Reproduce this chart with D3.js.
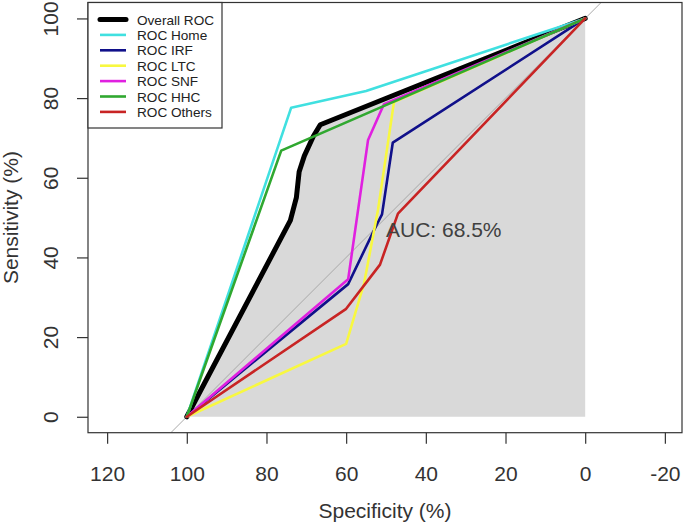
<!DOCTYPE html>
<html>
<head>
<meta charset="utf-8">
<script src="https://cdn.jsdelivr.net/npm/d3@7"></script>
<style>
  html, body { margin: 0; padding: 0; background: #fff; }
  svg { display: block; font-family: "Liberation Sans", Arial, sans-serif; }
</style>
</head>
<body>
<svg id="chart" width="685" height="526"></svg>
<script>
// ---- data (specificity %, sensitivity %) ----
const seriesNames = ["Overall ROC", "ROC Home", "ROC IRF", "ROC LTC", "ROC SNF", "ROC HHC", "ROC Others"];
const seriesColors = ["#000000", "#40e0e0", "#10108a", "#f8f840", "#e020e0", "#30a830", "#c82424"];
const overallSpec = [100, 74, 72.5, 71.8, 70.5, 68.2, 66.5, 0];
const overallSens = [0, 49.3, 55, 61.5, 65.5, 70.5, 73.3, 100];
const homeSpec = [100, 73.8, 55, 0];
const homeSens = [0, 77.6, 81.8, 100];
const irfSpec = [100, 59.5, 52.2, 51, 48.3, 0];
const irfSens = [0, 33.3, 48.5, 50.8, 68.8, 100];
const ltcSpec = [100, 60, 55.5, 52, 48, 0];
const ltcSens = [0, 18.3, 33.5, 52, 79, 100];
const snfSpec = [100, 59.5, 54.5, 50.5, 0];
const snfSens = [0, 34.5, 69.5, 78.5, 100];
const hhcSpec = [100, 76.3, 0];
const hhcSens = [0, 66.8, 100];
const othersSpec = [100, 60, 51.5, 47, 0];
const othersSens = [0, 27.1, 38.2, 51, 100];
const diagSpec = [104, -4];
const diagSens = [-4, 104];
const xTicks = [120, 100, 80, 60, 40, 20, 0, -20];
const yTicks = [0, 20, 40, 60, 80, 100];
const aucLabel = "AUC: 68.5%";
const xTitle = "Specificity (%)";
const yTitle = "Sensitivity (%)";

const allSpec = [overallSpec, homeSpec, irfSpec, ltcSpec, snfSpec, hhcSpec, othersSpec];
const allSens = [overallSens, homeSens, irfSens, ltcSens, snfSens, hhcSens, othersSens];
const series = seriesNames.map((n, i) => ({
  name: n, color: seriesColors[i],
  pts: allSpec[i].map((s, j) => [s, allSens[i][j]])
}));

// ---- layout ----
const box = {left: 88, right: 682, top: 2.5, bottom: 432.7};
const x = d3.scaleLinear().domain([124.8, -24.3]).range([box.left, box.right]);
const y = d3.scaleLinear().domain([-4, 104]).range([box.bottom, box.top]);

const svg = d3.select("#chart");
const line = d3.line().x(d => x(d[0])).y(d => y(d[1]));

svg.append("defs").append("clipPath").attr("id", "plotclip")
  .append("rect").attr("x", box.left).attr("y", box.top)
  .attr("width", box.right - box.left).attr("height", box.bottom - box.top);

const plot = svg.append("g").attr("clip-path", "url(#plotclip)");

// AUC polygon under overall curve
const poly = series[0].pts.concat([[0, 0], [100, 0]]);
plot.append("path")
  .attr("d", line(poly) + "Z")
  .attr("fill", "#d9d9d9").attr("stroke", "none");

// diagonal
plot.append("path")
  .attr("d", line(diagSpec.map((s, i) => [s, diagSens[i]])))
  .attr("stroke", "#a8a8a8").attr("stroke-width", 1).attr("fill", "none");

// curves
series.forEach((s, i) => {
  plot.append("path")
    .attr("d", line(s.pts))
    .attr("fill", "none")
    .attr("stroke", s.color)
    .attr("stroke-width", i === 0 ? 5 : 2.6)
    .attr("stroke-linejoin", "round")
    .attr("stroke-linecap", "round");
});

// AUC text
svg.append("text")
  .attr("x", x(50)).attr("y", 236.5)
  .attr("font-size", 21).attr("fill", "#404040")
  .text(aucLabel);

// plot box
svg.append("rect")
  .attr("x", box.left).attr("y", box.top)
  .attr("width", box.right - box.left).attr("height", box.bottom - box.top)
  .attr("fill", "none").attr("stroke", "#333").attr("stroke-width", 1.2);

// x axis
const xa = svg.append("g").attr("transform", `translate(0,${box.bottom})`)
  .call(d3.axisBottom(x).tickValues(xTicks).tickSize(11).tickPadding(22).tickFormat(d => String(d)));
xa.select(".domain").remove();
xa.selectAll("line").attr("stroke", "#333").attr("stroke-width", 1.2);
xa.selectAll("text").attr("font-size", 21).attr("fill", "#333")
  .attr("font-family", "Liberation Sans, Arial, sans-serif");

// y axis (labels rotated, parallel to axis)
const ya = svg.append("g").attr("transform", `translate(${box.left},0)`)
  .call(d3.axisLeft(y).tickValues(yTicks).tickSize(11).tickFormat(d => String(d)));
ya.select(".domain").remove();
ya.selectAll("line").attr("stroke", "#333").attr("stroke-width", 1.2);
ya.selectAll("text").remove();
ya.selectAll(".tick").append("text")
  .attr("transform", "translate(-30,0) rotate(-90)")
  .attr("text-anchor", "middle")
  .attr("font-size", 21).attr("fill", "#333")
  .attr("font-family", "Liberation Sans, Arial, sans-serif")
  .text(d => String(d));

// axis titles
svg.append("text")
  .attr("x", (box.left + box.right) / 2).attr("y", 518)
  .attr("text-anchor", "middle").attr("font-size", 21).attr("fill", "#333")
  .text(xTitle);
svg.append("text")
  .attr("transform", `translate(18,${(box.top + box.bottom) / 2}) rotate(-90)`)
  .attr("text-anchor", "middle").attr("font-size", 21).attr("fill", "#333")
  .text(yTitle);

// legend
const lg = svg.append("g");
lg.append("rect").attr("x", 88).attr("y", 2.5).attr("width", 134).attr("height", 125.5)
  .attr("fill", "#fff").attr("stroke", "#333").attr("stroke-width", 1.2);
series.forEach((s, i) => {
  const cy = 19.5 + i * 15.4;
  lg.append("line").attr("x1", 100).attr("x2", 126).attr("y1", cy).attr("y2", cy)
    .attr("stroke", s.color).attr("stroke-width", i === 0 ? 5 : 2.6)
    .attr("stroke-linecap", i === 0 ? "round" : "butt");
  lg.append("text").attr("x", 137).attr("y", cy + 5)
    .attr("font-size", 13.6).attr("fill", "#222").text(s.name);
});
</script>
</body>
</html>
